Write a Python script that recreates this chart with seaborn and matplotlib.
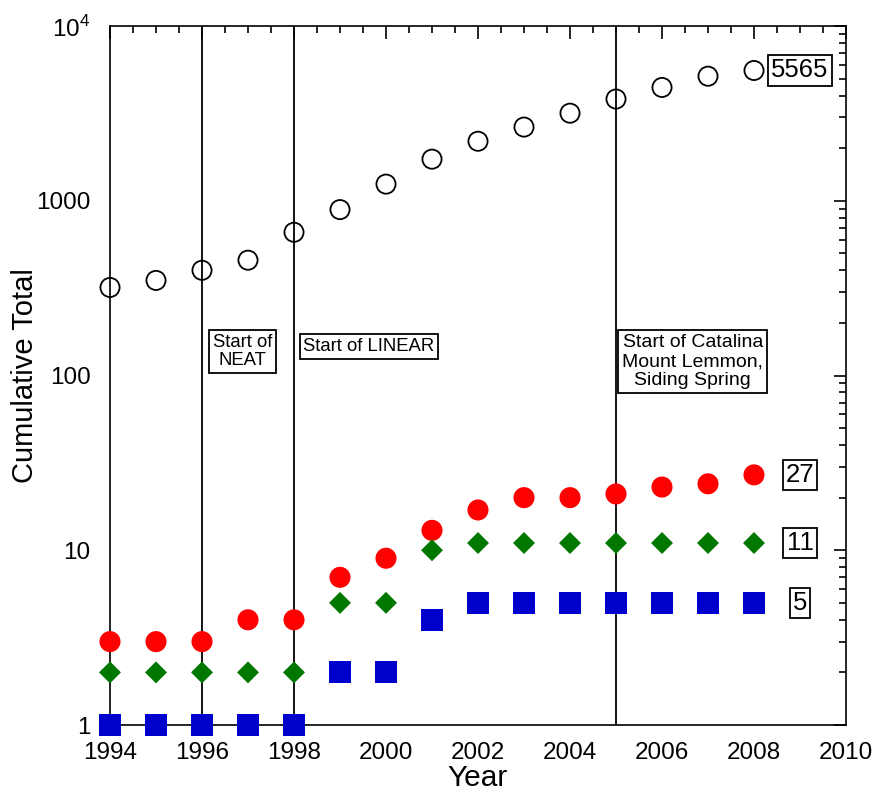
import numpy as np
import pandas as pd
import matplotlib
matplotlib.use("Agg")
import matplotlib.pyplot as plt
import matplotlib.ticker as mticker
import seaborn as sns

years = [1994, 1995, 1996, 1997, 1998, 1999, 2000, 2001, 2002, 2003, 2004, 2005, 2006, 2007, 2008]
total = [319, 350, 400, 457, 660, 890, 1245, 1730, 2190, 2640, 3170, 3820, 4450, 5160, 5565]
red_series = [3, 3, 3, 4, 4, 7, 9, 13, 17, 20, 20, 21, 23, 24, 27]
green_series = [2, 2, 2, 2, 2, 5, 5, 10, 11, 11, 11, 11, 11, 11, 11]
blue_series = [1, 1, 1, 1, 1, 2, 2, 4, 5, 5, 5, 5, 5, 5, 5]

event_years = [1996, 1998, 2005]
event_labels = ["Start of\nNEAT", "Start of LINEAR", "Start of Catalina\nMount Lemmon,\nSiding Spring"]

ytick_vals = [1, 10, 100, 1000, 10000]
ytick_labels = ["1", "10", "100", "1000", r"10$^{4}$"]
xtick_vals = [1994, 1996, 1998, 2000, 2002, 2004, 2006, 2008, 2010]

sns.set_style("white")
plt.rcParams['font.family'] = ['Liberation Sans', 'DejaVu Sans']
plt.rcParams['mathtext.fontset'] = 'custom'
plt.rcParams['mathtext.rm'] = 'Liberation Sans'
plt.rcParams['text.color'] = 'black'
plt.rcParams['axes.labelcolor'] = 'black'
plt.rcParams['xtick.color'] = 'black'
plt.rcParams['ytick.color'] = 'black'

df = pd.DataFrame({"Year": years, "total": total, "red": red_series,
                   "green": green_series, "blue": blue_series})

fig = plt.figure(figsize=(8.74, 7.95), dpi=100)
ax = fig.add_axes([110/874, 70/795, (846-110)/874, (725-26)/795])

for xv in event_years:
    ax.axvline(xv, color="black", lw=1.3, zorder=1)

sns.scatterplot(data=df, x="Year", y="total", marker="o", s=190, facecolors="none",
                edgecolor="black", linewidth=1.3, ax=ax, clip_on=False, zorder=3)
sns.scatterplot(data=df, x="Year", y="red", marker="o", s=230, color="#ff0000",
                edgecolor="none", linewidth=0, ax=ax, clip_on=False, zorder=3)
sns.scatterplot(data=df, x="Year", y="green", marker="D", s=125, color="#007800",
                edgecolor="none", linewidth=0, ax=ax, clip_on=False, zorder=3)
sns.scatterplot(data=df, x="Year", y="blue", marker="s", s=250, color="#0000cc",
                edgecolor="none", linewidth=0, ax=ax, clip_on=False, zorder=3)

ax.set_yscale("log")
ax.set_ylim(1, 10000)
ax.set_xlim(1994, 2010)
ax.set_yticks(ytick_vals)
ax.yaxis.set_major_formatter(mticker.FixedFormatter(ytick_labels))
ax.yaxis.set_minor_locator(mticker.LogLocator(base=10, subs=np.arange(2, 10)))
ax.yaxis.set_minor_formatter(mticker.NullFormatter())
ax.set_xticks(xtick_vals)
ax.xaxis.set_minor_locator(mticker.MultipleLocator(0.5))

ax.tick_params(which="both", direction="in", top=True, right=True, width=1.2,
               color="black", labelcolor="black")
ax.tick_params(which="major", length=9, labelsize=17.5)
ax.tick_params(which="minor", length=5)
ax.tick_params(axis="x", which="major", pad=12)
ax.tick_params(axis="y", which="major", pad=14)
for sp in ax.spines.values():
    sp.set_linewidth(1.2)
    sp.set_color("black")

ax.set_xlabel("Year", fontsize=21.5, labelpad=0)
ax.set_ylabel("Cumulative Total", fontsize=21, labelpad=-2)

box = dict(boxstyle="square,pad=0.2", facecolor="white", edgecolor="black", linewidth=1.3)
ann_pos = [(1996.88, 0.534), (1999.63, 0.5415), (2006.67, 0.520)]
ann_size = [13.3, 13.3, 14]
ann_ls = [1.1, 1.1, 1.15]
for (xv, yf), lab, fs, ls in zip(ann_pos, event_labels, ann_size, ann_ls):
    ax.text(xv, yf, lab, transform=ax.get_xaxis_transform(), ha="center", va="center",
            multialignment="center", fontsize=fs, bbox=box, zorder=4, linespacing=ls)

final_vals = [total[-1], red_series[-1], green_series[-1], blue_series[-1]]
for v in final_vals:
    ax.text(2009.0, v, str(v), ha="center", va="center", fontsize=18.5,
            bbox=dict(boxstyle="square,pad=0.12", facecolor="white", edgecolor="black", linewidth=1.3),
            zorder=4)

fig.savefig("out.png", dpi=100)
